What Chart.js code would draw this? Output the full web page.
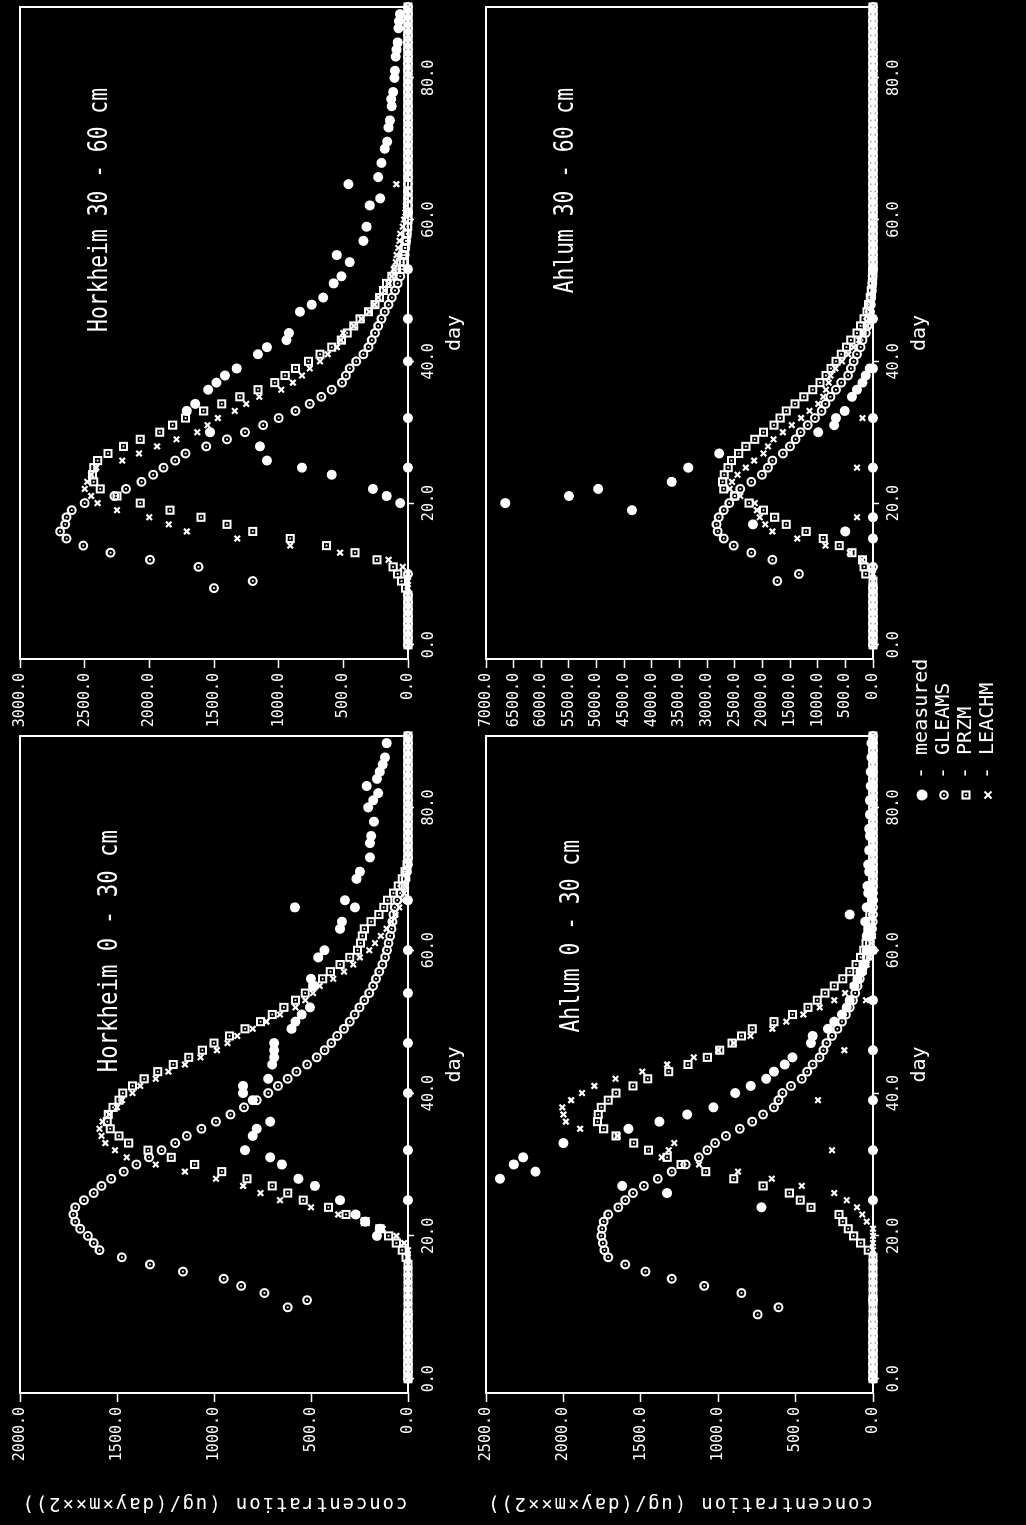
<!DOCTYPE html>
<html>
<head>
<meta charset="utf-8">
<script src="https://cdn.jsdelivr.net/npm/chart.js@4.4.0/dist/chart.umd.min.js"></script>
<style>
html, body { margin: 0; padding: 0; background: #000; overflow: hidden; width: 1026px; height: 1525px; }
#sheet { position: absolute; left: 0; top: 0; width: 1525px; height: 1026px; background: #000;
         transform-origin: 0 0; transform: translate(0px, 1525px) rotate(-90deg); }
#sheet canvas { position: absolute; }
</style>
</head>
<body>
<div id="sheet">
  <canvas id="hk030"></canvas>
  <canvas id="hk3060"></canvas>
  <canvas id="ah030"></canvas>
  <canvas id="ah3060"></canvas>
</div>
<script>
// model output, one value per day
var days = [0,1,2,3,4,5,6,7,8,9,10,11,12,13,14,15,16,17,18,19,20,21,22,23,24,25,26,27,28,29,
  30,31,32,33,34,35,36,37,38,39,40,41,42,43,44,45,46,47,48,49,50,51,52,53,54,55,56,57,58,59,
  60,61,62,63,64,65,66,67,68,69,70,71,72,73,74,75,76,77,78,79,80,81,82,83,84,85,86,87,88,89,90];
var dayTicks = [0, 20, 40, 60, 80];

// Horkheim 0 - 30 cm
var hk030Gleams = [0,0,0,0,0,0,0,0,0,0,
  620,520,740,860,950,1160,1330,1475,1590,1620,
  1650,1690,1715,1725,1715,1670,1620,1580,1530,1465,
  1400,1335,1270,1200,1140,1065,990,915,845,780,
  720,670,620,575,520,470,430,395,365,330,
  300,275,250,225,200,180,165,148,132,118,
  108,100,92,85,80,75,68,55,40,25,
  12,5,0,0,0,0,0,0,0,0,
  0,0,0,0,0,0,0,0,0,0,0];
var hk030Przm = [0,0,0,0,0,0,0,0,0,0,
  0,0,0,0,0,0,0,10,30,60,
  100,145,220,320,410,540,620,700,830,960,
  1100,1220,1340,1440,1490,1535,1550,1545,1520,1490,
  1470,1420,1360,1290,1210,1130,1060,1000,920,840,
  760,700,640,580,530,490,440,400,350,300,
  260,245,235,225,190,150,125,105,75,50,
  30,15,5,0,0,0,0,0,0,0,
  0,0,0,0,0,0,0,0,0,0,0];
var hk030Leachm = [0,0,0,0,0,0,0,0,0,0,
  0,0,0,0,0,0,0,0,0,20,
  60,130,230,360,500,660,760,850,990,1150,
  1300,1450,1510,1560,1580,1590,1575,1540,1500,1475,
  1420,1380,1300,1235,1150,1070,985,930,880,800,
  730,660,580,530,490,455,385,330,282,248,
  200,170,140,110,85,65,45,30,20,10,
  5,0,0,0,0,0,0,0,0,0,
  0,0,0,0,0,0,0,0,0,0,0];
var hk030MeasDays = [20,21,22,23,25,27,28,30,31,32,34,35,36,39,40,41,42,44,45,46,47,49,50,51,52,
  55,56,59,60,63,64,66,66,67,70,71,73,75,76,78,80,81,82,83,84,85,86,87,89,
  25,32,40,47,54,60,67];
var hk030Meas = [160,145,220,270,350,480,565,650,710,840,800,780,710,800,850,850,720,700,690,690,690,600,580,548,505,
  488,500,462,430,350,340,583,273,325,265,248,196,196,190,175,205,179,153,213,160,145,130,119,110,
  0,0,0,0,0,0,0];

// Horkheim 30 - 60 cm
var hk3060Gleams = [0,0,0,0,0,0,0,0,1500,1200,
  0,1620,1995,2300,2510,2640,2690,2650,2640,2600,
  2500,2270,2180,2060,1970,1890,1800,1720,1560,1400,
  1260,1120,1000,870,760,670,590,510,480,450,
  400,345,305,280,255,230,205,180,150,125,
  100,80,60,45,35,25,20,15,10,5,
  0,0,0,0,0,0,0,0,0,0,
  0,0,0,0,0,0,0,0,0,0,
  0,0,0,0,0,0,0,0,0,0,0];
var hk3060Przm = [0,0,0,0,0,0,0,0,20,50,
  80,115,240,410,630,910,1200,1400,1600,1840,
  2070,2250,2380,2430,2440,2430,2400,2320,2200,2070,
  1920,1820,1720,1580,1440,1300,1160,1030,950,870,
  770,680,590,515,470,420,370,305,255,220,
  190,165,125,90,60,40,25,15,8,3,
  0,0,0,0,0,0,0,0,0,0,
  0,0,0,0,0,0,0,0,0,0,
  0,0,0,0,0,0,0,0,0,0,0];
var hk3060Leachm = [0,0,0,0,0,0,0,0,0,0,
  0,40,150,525,910,1320,1710,1850,2000,2250,
  2400,2450,2500,2480,2450,2410,2210,2080,1940,1790,
  1630,1550,1470,1340,1250,1150,980,890,820,760,
  680,620,550,520,500,420,360,300,260,230,
  180,150,125,110,95,88,75,65,60,40,
  30,20,15,10,8,90,5,0,0,0,
  0,0,0,0,0,0,0,0,0,0,
  0,0,0,0,0,0,0,0,0,0,0];
var hk3060MeasDays = [20,21,22,24,25,26,28,30,33,34,36,37,38,39,41,42,43,44,47,48,49,51,52,54,55,
  57,59,62,63,65,66,68,70,71,73,74,76,77,78,80,81,83,84,85,87,88,89,
  25,32,40,46,53,61];
var hk3060Meas = [60,165,270,590,820,1090,1145,1530,1710,1645,1545,1480,1415,1325,1160,1090,940,920,835,745,655,575,515,450,550,
  345,320,295,215,460,230,205,180,160,150,140,125,130,115,105,100,95,88,80,74,70,62,
  0,0,0,0,0,0];

// Ahlum 0 - 30 cm
var ah030Gleams = [0,0,0,0,0,0,0,0,0,745,
  610,0,850,1090,1300,1470,1600,1710,1735,1745,
  1755,1750,1740,1710,1645,1600,1550,1480,1390,1300,
  1210,1125,1070,1020,950,860,780,710,640,610,
  585,530,460,425,390,345,320,300,265,230,
  200,175,150,130,115,100,85,70,55,40,
  30,20,12,6,2,0,0,0,0,0,
  0,0,0,0,0,0,0,0,0,0,
  0,0,0,0,0,0,0,0,0,0,0];
var ah030Przm = [0,0,0,0,0,0,0,0,0,0,
  0,0,0,0,0,0,0,0,30,80,
  125,160,195,220,400,470,540,710,900,1080,
  1240,1330,1450,1545,1660,1740,1780,1775,1755,1710,
  1660,1550,1455,1320,1195,1070,990,910,850,780,
  640,520,420,360,310,250,195,150,110,80,
  60,45,35,30,25,20,15,10,5,0,
  0,0,0,0,0,0,0,0,0,0,
  0,0,0,0,0,0,0,0,0,0,0];
var ah030Leachm = [0,0,0,0,0,0,0,0,0,0,
  0,0,0,0,0,0,0,0,0,0,
  0,0,40,70,103,170,250,460,654,872,
  1124,1365,1320,1284,1650,1892,1984,2000,2007,1950,
  1880,1800,1663,1491,1330,1158,1000,900,791,650,
  560,450,344,250,180,130,90,60,40,25,
  15,8,0,0,0,0,0,0,0,0,
  0,0,0,0,0,0,0,0,0,0,
  0,0,0,0,0,0,0,0,0,0,0];
var ah030LeachmLowDays = [32, 39, 46, 53];
var ah030LeachmLow = [265, 355, 185, 45];
var ah030MeasDays = [24,26,27,28,29,30,31,33,35,36,37,38,40,41,42,43,44,45,47,48,49,50,51,52,53,
  55,56,57,58,60,62,63,64,65,66,68,69,71,72,74,76,77,79,81,83,85,87,89,
  25,32,39,46,53,60,67];
var ah030Meas = [720,1330,1620,2410,2180,2320,2260,2000,1580,1380,1200,1030,890,790,690,640,570,520,400,390,290,250,200,170,150,
  120,100,80,60,40,40,30,50,150,40,30,35,25,30,25,20,25,20,20,15,15,10,10,
  0,0,0,0,0,0,0];

// Ahlum 30 - 60 cm
var ah3060Gleams = [0,0,0,0,0,0,0,0,0,1730,
  1340,0,1820,2200,2520,2700,2810,2830,2790,2700,
  2600,2500,2400,2200,2010,1900,1820,1630,1500,1400,
  1310,1180,1050,930,860,770,670,575,450,400,
  350,290,225,190,130,100,75,55,40,30,
  20,12,6,0,0,0,0,0,0,0,
  0,0,0,0,0,0,0,0,0,0,
  0,0,0,0,0,0,0,0,0,0,
  0,0,0,0,0,0,0,0,0,0,0];
var ah3060Przm = [0,0,0,0,0,0,0,0,0,0,
  130,160,190,380,610,900,1210,1570,1780,1980,
  2240,2500,2700,2720,2690,2620,2560,2430,2300,2140,
  1980,1790,1680,1570,1410,1250,1090,960,850,760,
  670,575,480,400,290,225,160,110,80,50,
  30,15,5,0,0,0,0,0,0,0,
  0,0,0,0,0,0,0,0,0,0,
  0,0,0,0,0,0,0,0,0,0,
  0,0,0,0,0,0,0,0,0,0,0];
var ah3060Leachm = [0,0,0,0,0,0,0,0,0,0,
  0,0,200,420,860,1370,1820,1950,2050,2100,
  2140,2400,2590,2550,2450,2300,2150,1980,1900,1800,
  1630,1470,1300,1150,990,900,850,800,770,680,
  560,450,350,250,170,110,70,40,20,10,
  0,0,0,0,0,0,0,0,0,0,
  0,0,0,0,0,0,0,0,0,0,
  0,0,0,0,0,0,0,0,0,0,
  0,0,0,0,0,0,0,0,0,0,0];
var ah3060LeachmLowDays = [18, 25, 32];
var ah3060LeachmLow = [290, 290, 190];
var ah3060MeasDays = [16,17,19,20,21,22,23,25,27,30,31,32,33,35,36,37,38,39,
  15,18,25,32,39,46,53];
var ah3060Meas = [500,2170,4360,6650,5500,4970,3640,3340,2780,990,700,670,510,380,290,190,130,60,
  0,0,0,0,0,0,0];

var WHITE = '#ffffff';
var MONO = 'DejaVu Sans Mono';

function pts(xs, ys) {
    return xs.map(function (x, i) { return { x: x, y: ys[i] }; });
}

var panelText = {
    id: 'panelText',
    beforeDatasetsDraw: function (chart) {
        var a = chart.chartArea, ctx = chart.ctx;
        ctx.save();
        ctx.strokeStyle = WHITE;
        ctx.lineWidth = 2;
        ctx.strokeRect(a.left, a.top, a.right - a.left, a.bottom - a.top);
        ctx.restore();
    },
    afterDatasetsDraw: function (chart) {
        // small centre dot inside the GLEAMS and PRZM symbols
        var ctx = chart.ctx;
        ctx.save();
        ctx.fillStyle = WHITE;
        [0, 1].forEach(function (i) {
            chart.getDatasetMeta(i).data.forEach(function (el) {
                ctx.fillRect(el.x - 0.9, el.y - 0.9, 1.8, 1.8);
            });
        });
        ctx.restore();
    },
    afterDraw: function (chart, args, o) {
        var a = chart.chartArea, ctx = chart.ctx;
        ctx.save();
        ctx.fillStyle = WHITE;
        ctx.strokeStyle = WHITE;
        ctx.textBaseline = 'middle';

        // panel title, right end fixed
        ctx.save();
        ctx.font = '26px "' + MONO + '"';
        ctx.textAlign = 'right';
        ctx.translate(a.left + o.titleEnd, a.top + o.titleDy);
        ctx.scale(o.titleSx, 1);
        ctx.fillText(o.title, 0, 0);
        ctx.restore();

        // day
        ctx.font = '20px "' + MONO + '"';
        ctx.textAlign = 'center';
        ctx.fillText('day', (a.left + a.right) / 2, a.bottom + 47);

        // concentration title
        if (o.yTitle) {
            ctx.save();
            ctx.translate(22, (a.top + a.bottom) / 2);
            ctx.rotate(-Math.PI / 2);
            ctx.font = '19px "' + MONO + '"';
            ctx.letterSpacing = '1.9px';
            ctx.textAlign = 'center';
            ctx.fillText(o.yTitle, 0, 0);
            ctx.restore();
        }

        // legend
        if (o.legend) {
            var lx = 730, rowY = [456, 478, 500, 522];
            var names = ['measured', 'GLEAMS', 'PRZM', 'LEACHM'];
            ctx.textAlign = 'left';
            ctx.font = '20px "' + MONO + '"';
            for (var i = 0; i < 4; i++) {
                var y = rowY[i];
                ctx.lineWidth = 2.1;
                if (i === 0) {
                    ctx.beginPath(); ctx.arc(lx, y, 5.5, 0, Math.PI * 2); ctx.fill();
                } else if (i === 1) {
                    ctx.beginPath(); ctx.arc(lx, y, 3.8, 0, Math.PI * 2); ctx.stroke();
                    ctx.fillRect(lx - 0.9, y - 0.9, 1.8, 1.8);
                } else if (i === 2) {
                    ctx.strokeRect(lx - 3.5, y - 3.5, 7, 7);
                    ctx.fillRect(lx - 0.9, y - 0.9, 1.8, 1.8);
                } else {
                    ctx.beginPath();
                    ctx.moveTo(lx - 3.5, y - 3.5); ctx.lineTo(lx + 3.5, y + 3.5);
                    ctx.moveTo(lx - 3.5, y + 3.5); ctx.lineTo(lx + 3.5, y - 3.5);
                    ctx.stroke();
                }
                ctx.fillText('- ' + names[i], 746, y);
            }
        }
        ctx.restore();
    }
};

function criarPainel(p) {
    var canvas = document.getElementById(p.id);
    canvas.width = p.w; canvas.height = p.h;
    canvas.style.left = p.x + 'px'; canvas.style.top = p.y + 'px';
    canvas.style.width = p.w + 'px'; canvas.style.height = p.h + 'px';

    var datasets = [
        { label: 'GLEAMS', data: pts(days, p.gleams),
          pointStyle: 'circle', pointRadius: 3.9, borderWidth: 2.1, borderColor: WHITE, backgroundColor: 'rgba(0,0,0,0)' },
        { label: 'PRZM', data: pts(days, p.przm),
          pointStyle: 'rect', pointRadius: 5, borderWidth: 2, borderColor: WHITE, backgroundColor: 'rgba(0,0,0,0)' },
        { label: 'LEACHM', data: pts(days, p.leachm).concat(p.leachmLow || []),
          pointStyle: 'crossRot', pointRadius: 3.9, borderColor: WHITE, borderWidth: 2.2 },
        { label: 'measured', data: pts(p.measDays, p.meas),
          pointStyle: 'circle', pointRadius: 5, backgroundColor: WHITE, borderColor: WHITE, borderWidth: 0 }
    ];
    datasets.forEach(function (d) {
        d.clip = false;
        d.showLine = false;
    });

    var tickFont = { family: MONO, size: 15 };
    return new Chart(canvas, {
        type: 'scatter',
        data: { datasets: datasets },
        options: {
            responsive: false,
            animation: false,
            devicePixelRatio: 1,
            events: [],
            layout: { padding: { left: 0, top: 20, right: p.padRight, bottom: 0 } },
            plugins: {
                legend: { display: false },
                tooltip: { enabled: false },
                panelText: { title: p.title, titleEnd: p.titleEnd, titleDy: p.titleDy, titleSx: p.titleSx,
                             yTitle: p.yTitle, legend: p.legend }
            },
            scales: {
                x: {
                    type: 'linear', min: -2, max: 90,
                    afterFit: function (s) { s.height = p.xH; },
                    afterBuildTicks: function (s) { s.ticks = dayTicks.map(function (v) { return { value: v }; }); },
                    ticks: { color: WHITE, font: tickFont, padding: 6, autoSkip: false, maxRotation: 0,
                             callback: function (v) { return Number(v).toFixed(1); } },
                    grid: { display: true, drawOnChartArea: false, drawTicks: true, tickLength: 6,
                            tickColor: WHITE, tickWidth: 1.5, color: WHITE },
                    border: { display: false }
                },
                y: {
                    type: 'linear', min: 0, max: p.max,
                    afterFit: function (s) { s.width = p.yW; },
                    ticks: { stepSize: 500, color: WHITE, font: tickFont, padding: 5, autoSkip: false,
                             callback: function (v) { return Number(v).toFixed(1); } },
                    grid: { display: true, drawOnChartArea: false, drawTicks: true, tickLength: 9,
                            tickColor: WHITE, tickWidth: 1.5, color: WHITE },
                    border: { display: false }
                }
            }
        },
        plugins: [panelText]
    });
}

var yTitle = 'concentration (ug/(day\u00d7m\u00d7\u00d72))';

criarPainel({ id: 'hk030', x: 0, y: 0, w: 800, h: 480, yW: 132, padRight: 11, xH: 72, max: 2000,
    gleams: hk030Gleams, przm: hk030Przm, leachm: hk030Leachm, measDays: hk030MeasDays, meas: hk030Meas,
    title: 'Horkheim 0 - 30 cm', titleEnd: 563, titleDy: 90, titleSx: 0.86, yTitle: yTitle });
criarPainel({ id: 'hk3060', x: 760, y: 0, w: 765, h: 480, yW: 106, padRight: 6, xH: 72, max: 3000,
    gleams: hk3060Gleams, przm: hk3060Przm, leachm: hk3060Leachm, measDays: hk3060MeasDays, meas: hk3060Meas,
    title: 'Horkheim 30 - 60 cm', titleEnd: 571, titleDy: 80, titleSx: 0.82 });
criarPainel({ id: 'ah030', x: 0, y: 466, w: 880, h: 560, yW: 132, padRight: 91, xH: 153, max: 2500,
    gleams: ah030Gleams, przm: ah030Przm, leachm: ah030Leachm,
    leachmLow: pts(ah030LeachmLowDays, ah030LeachmLow),
    measDays: ah030MeasDays, meas: ah030Meas,
    title: 'Ahlum 0 - 30 cm', titleEnd: 553, titleDy: 86, titleSx: 0.82, yTitle: yTitle, legend: true });
criarPainel({ id: 'ah3060', x: 760, y: 466, w: 765, h: 480, yW: 106, padRight: 6, xH: 73, max: 7000,
    gleams: ah3060Gleams, przm: ah3060Przm, leachm: ah3060Leachm,
    leachmLow: pts(ah3060LeachmLowDays, ah3060LeachmLow),
    measDays: ah3060MeasDays, meas: ah3060Meas,
    title: 'Ahlum 30 - 60 cm', titleEnd: 571, titleDy: 80, titleSx: 0.82 });
</script>
</body>
</html>
